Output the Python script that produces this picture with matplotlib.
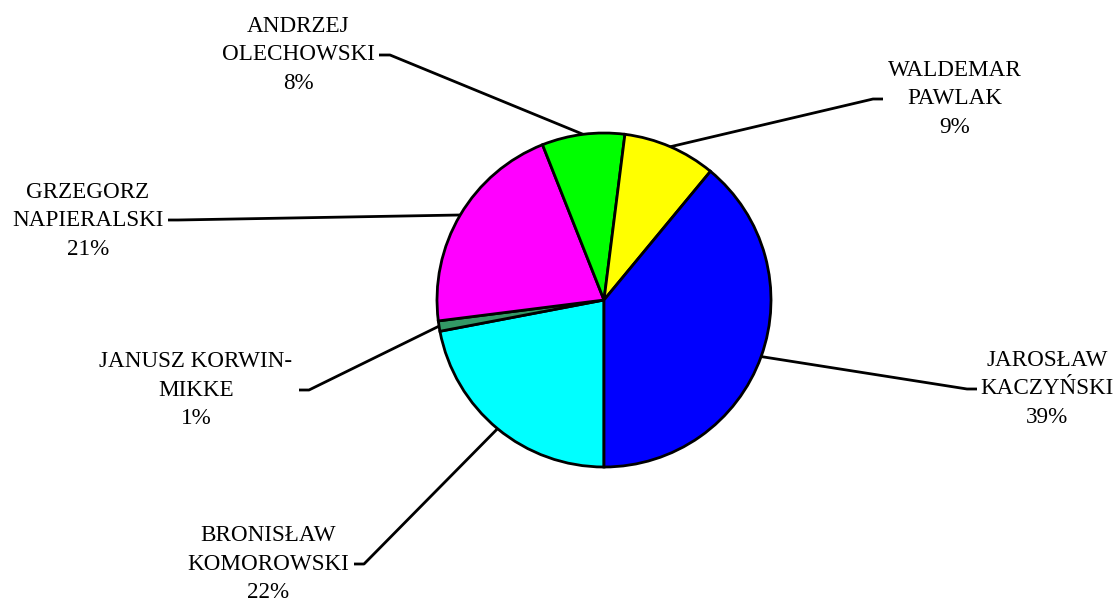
import numpy as np
import matplotlib.pyplot as plt

# Candidates in clockwise order starting from the bottom of the pie
names = ["BRONISŁAW\nKOMOROWSKI", "JANUSZ KORWIN-\nMIKKE", "GRZEGORZ\nNAPIERALSKI",
         "ANDRZEJ\nOLECHOWSKI", "WALDEMAR\nPAWLAK", "JAROSŁAW\nKACZYŃSKI"]
shares = [22, 1, 21, 8, 9, 39]
colors = ["#00FFFF", "#339966", "#FF00FF", "#00FF00", "#FFFF00", "#0000FF"]

# label block centres and leader elbows, in pixels (y measured from top)
label_pos = [(268, 564), (196, 390), (88, 221), (298, 55), (955, 99), (1047, 389)]
elbows = [((354, 564), (364, 564)), ((299, 390), (309, 390)), ((168, 220), (178, 220)),
          ((379, 55), (390, 55)), ((883, 99), (873, 99)), ((977, 389), (967, 389))]

W, H = 1118, 601
plt.rcParams['font.family'] = ['Liberation Serif', 'DejaVu Serif']

fig = plt.figure(figsize=(W / 100, H / 100), dpi=100)
ax = fig.add_axes([0, 0, 1, 1])

wedges, _ = ax.pie(shares, colors=colors, startangle=-90, counterclock=False,
                   center=(604, H - 300), radius=167,
                   wedgeprops=dict(edgecolor='black', linewidth=2))
ax.set_xlim(0, W)
ax.set_ylim(0, H)
ax.set_aspect('equal')
ax.axis('off')

for w, name, val, (lx, ly), (p0, p1) in zip(wedges, names, shares, label_pos, elbows):
    mid = np.deg2rad((w.theta1 + w.theta2) / 2)
    cx, cy = w.center
    ax_pt = (cx + w.r * np.cos(mid), cy + w.r * np.sin(mid))
    xs = [p0[0], p1[0], ax_pt[0]]
    ys = [H - p0[1], H - p1[1], ax_pt[1]]
    ax.plot(xs, ys, color='black', linewidth=2, solid_capstyle='butt', zorder=0)
    ax.text(lx, H - ly, f"{name}\n{val}%", ha='center', va='center',
            fontsize=16.7, linespacing=1.48, color='black')

fig.savefig("out.png", dpi=100)
